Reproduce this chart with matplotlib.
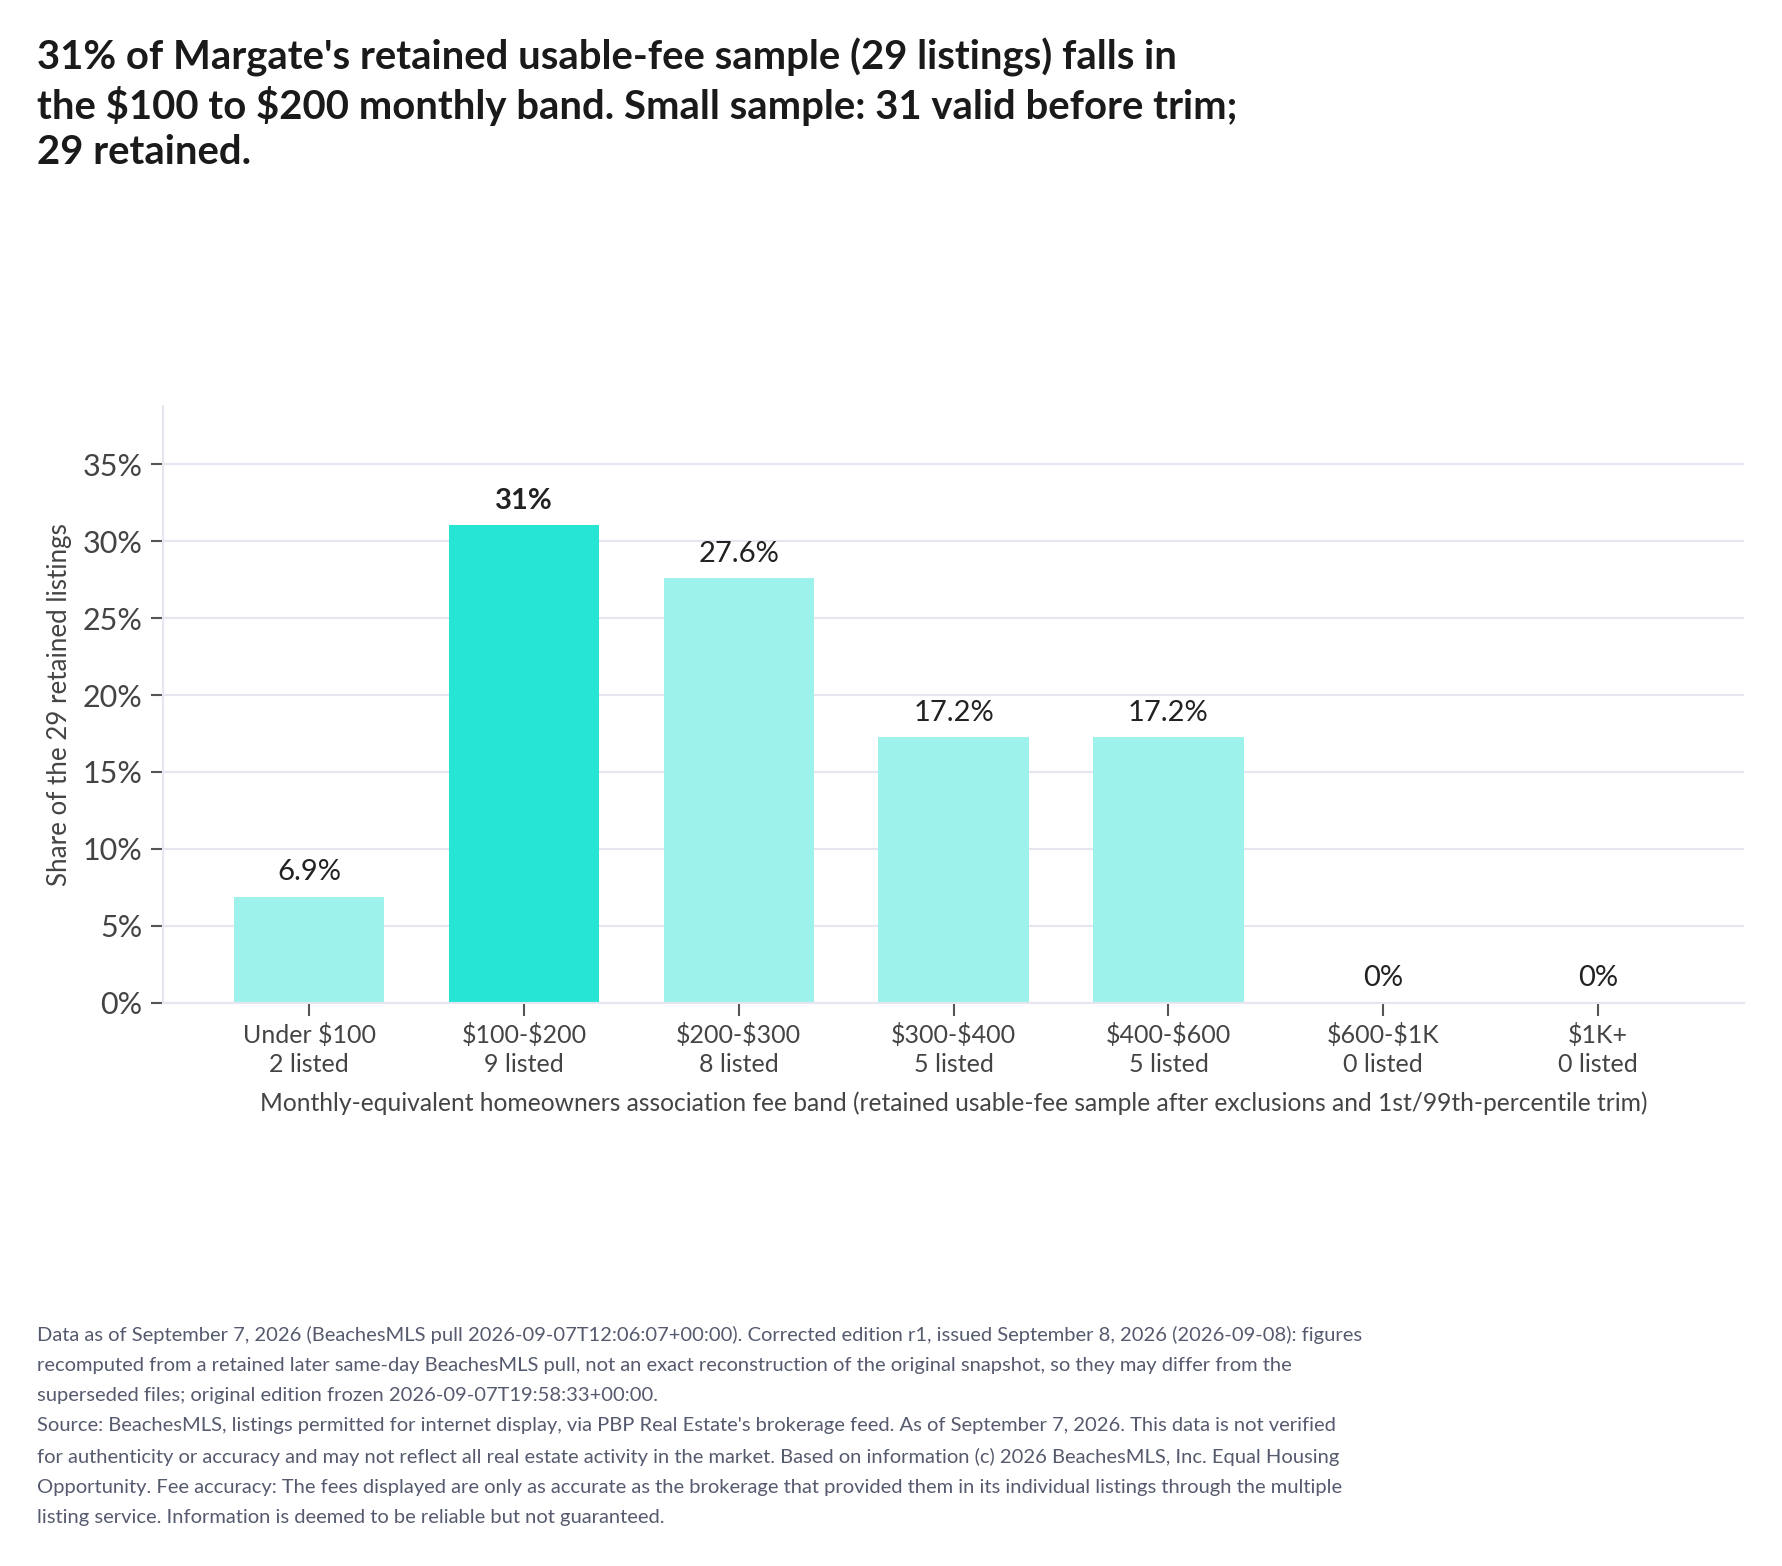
import numpy as np
import matplotlib.pyplot as plt

plt.rcParams['font.family'] = ['Lato', 'DejaVu Sans']
plt.rcParams['text.parse_math'] = False

bands = ['Under $100', '$100-$200', '$200-$300', '$300-$400', '$400-$600', '$600-$1K', '$1K+']
counts = [2, 9, 8, 5, 5, 0, 0]
total = 29
highlight = 1

title = ("31% of Margate's retained usable-fee sample (29 listings) falls in\n"
         "the $100 to $200 monthly band. Small sample: 31 valid before trim;\n"
         "29 retained.")
footer = ("Data as of September 7, 2026 (BeachesMLS pull 2026-09-07T12:06:07+00:00). Corrected edition r1, issued September 8, 2026 (2026-09-08): figures\n"
          "recomputed from a retained later same-day BeachesMLS pull, not an exact reconstruction of the original snapshot, so they may differ from the\n"
          "superseded files; original edition frozen 2026-09-07T19:58:33+00:00.\n"
          "Source: BeachesMLS, listings permitted for internet display, via PBP Real Estate's brokerage feed. As of September 7, 2026. This data is not verified\n"
          "for authenticity or accuracy and may not reflect all real estate activity in the market. Based on information (c) 2026 BeachesMLS, Inc. Equal Housing\n"
          "Opportunity. Fee accuracy: The fees displayed are only as accurate as the brokerage that provided them in its individual listings through the multiple\n"
          "listing service. Information is deemed to be reliable but not guaranteed.")

shares = np.array(counts) / total * 100
colors = ['#26e5d5' if i == highlight else '#9df2ec' for i in range(len(bands))]

fig = plt.figure(figsize=(17.82, 15.66), dpi=100)
ax = fig.add_axes([0.0915, 0.3598, 0.8873, 0.381])

x = np.arange(len(bands))
ax.bar(x, shares, width=0.7, color=colors, zorder=2)

for i, v in enumerate(shares):
    lab = '%g%%' % round(v, 1) if v != 0 else '0%'
    if i == highlight:
        lab = '%d%%' % round(v)
    ax.text(i, v + 0.75, lab, ha='center', va='bottom', fontsize=21, color='#222222',
            fontweight='bold' if i == highlight else 'normal')

ax.set_xlim(-0.68, len(bands) - 0.32)
ax.set_ylim(0, 38.8)
ax.set_yticks(np.arange(0, 36, 5))
ax.set_yticklabels(['%d%%' % t for t in np.arange(0, 36, 5)])
ax.set_xticks(x)
ax.set_xticklabels(['%s\n%d listed' % (b, c) for b, c in zip(bands, counts)], linespacing=1.3)

ax.grid(axis='y', color='#e6e6f0', linewidth=1.5, zorder=0)
for s in ['top', 'right']:
    ax.spines[s].set_visible(False)
ax.spines['left'].set_color('#e6e6f0')
ax.spines['bottom'].set_color('#e6e6f0')
ax.spines['left'].set_linewidth(1.5)
ax.spines['bottom'].set_linewidth(1.5)

ax.tick_params(axis='y', labelsize=22, labelcolor='#444444', color='#555555', length=9, width=1.5, pad=6)
ax.tick_params(axis='x', labelsize=18, labelcolor='#444444', color='#555555', length=9, width=1.5, pad=6)

ax.set_ylabel('Share of the 29 retained listings', fontsize=18.7, color='#444444', labelpad=7)
ax.set_xlabel('Monthly-equivalent homeowners association fee band (retained usable-fee sample after exclusions and 1st/99th-percentile trim)',
              fontsize=17.7, color='#444444', labelpad=11)

fig.text(0.0208, 0.976, title, ha='left', va='top', fontsize=28.8, fontweight='bold',
         color='#1a1a1a', linespacing=1.28)
fig.text(0.0208, 0.153, footer, ha='left', va='top', fontsize=14.5, color='#555a6e',
         linespacing=1.92)

fig.savefig('out.png', dpi=100)
